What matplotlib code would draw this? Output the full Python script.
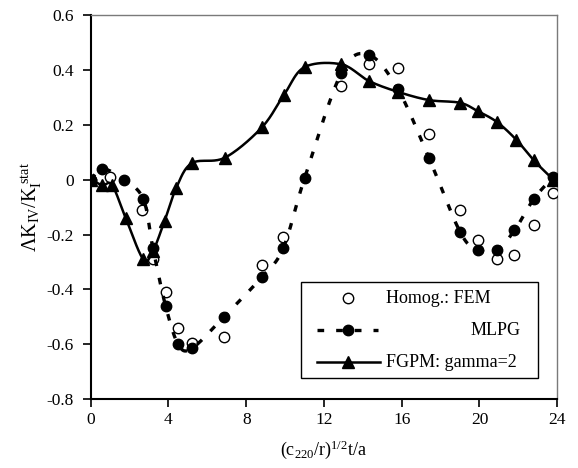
import numpy as np
import matplotlib
matplotlib.use("Agg")
import matplotlib.pyplot as plt
from matplotlib.patches import Rectangle
from matplotlib.lines import Line2D

plt.rcParams['font.family'] = ['Liberation Serif', 'DejaVu Serif']
plt.rcParams['mathtext.fontset'] = 'custom'
plt.rcParams['mathtext.rm'] = 'Liberation Serif'
plt.rcParams['mathtext.it'] = 'Liberation Serif:italic'

# Homog.: FEM (open circles)
fem_x = [0, 1.0, 2.65, 3.2, 3.85, 4.5, 5.2, 6.85, 8.8, 9.9, 12.9, 14.3, 15.8,
         17.4, 19.0, 19.9, 20.9, 21.8, 22.8, 23.8]
fem_y = [0.0, 0.01, -0.11, -0.29, -0.41, -0.54, -0.595, -0.575, -0.31, -0.21,
         0.34, 0.42, 0.405, 0.165, -0.11, -0.22, -0.29, -0.275, -0.165, -0.05]

# MLPG (filled circles, dashed)
mlpg_x = [0, 0.6, 1.7, 2.7, 3.2, 3.85, 4.5, 5.2, 6.85, 8.8, 9.9, 11.0, 12.9,
          14.3, 15.8, 17.4, 19.0, 19.9, 20.9, 21.8, 22.8, 23.8]
mlpg_y = [0.0, 0.04, 0.0, -0.07, -0.25, -0.46, -0.60, -0.615, -0.50, -0.355,
          -0.25, 0.005, 0.39, 0.455, 0.33, 0.08, -0.19, -0.255, -0.255, -0.185,
          -0.07, 0.01]

# FGPM: gamma=2 (triangles, solid)
fgpm_x = [0, 0.6, 1.1, 1.8, 2.7, 3.2, 3.8, 4.4, 5.2, 6.9, 8.8, 9.95, 11.0, 12.9,
          14.3, 15.8, 17.4, 19.0, 19.9, 20.9, 21.9, 22.8, 23.8]
fgpm_y = [0.0, -0.02, -0.02, -0.14, -0.29, -0.26, -0.15, -0.03, 0.06, 0.08,
          0.19, 0.31, 0.41, 0.42, 0.36, 0.32, 0.29, 0.28, 0.25, 0.21, 0.145,
          0.07, 0.0]

x_ticks = [0, 4, 8, 12, 16, 20, 24]
y_ticks = [-0.8, -0.6, -0.4, -0.2, 0, 0.2, 0.4, 0.6]
y_ticklabels = ['-0.8', '-0.6', '-0.4', '-0.2', '0', '0.2', '0.4', '0.6']


def smooth(x, y, n=25):
    # Catmull-Rom curve through the points (like a spreadsheet "smoothed line")
    x = np.asarray(x, float)
    y = np.asarray(y, float)
    px = np.concatenate([[2 * x[0] - x[1]], x, [2 * x[-1] - x[-2]]])
    py = np.concatenate([[2 * y[0] - y[1]], y, [2 * y[-1] - y[-2]]])
    t = np.linspace(0, 1, n)
    xs, ys = [], []
    for i in range(len(x) - 1):
        for p, out in ((px, xs), (py, ys)):
            p0, p1, p2, p3 = p[i], p[i + 1], p[i + 2], p[i + 3]
            out.append(0.5 * (2 * p1 + (-p0 + p2) * t
                              + (2 * p0 - 5 * p1 + 4 * p2 - p3) * t ** 2
                              + (-p0 + 3 * p1 - 3 * p2 + p3) * t ** 3))
    return np.concatenate(xs), np.concatenate(ys)


fig = plt.figure(figsize=(5.78, 4.68), dpi=100)
ax = fig.add_axes([0.157, 0.147, 0.807, 0.821])

dash = (0, (2.0, 3.6))
ax.plot(fem_x, fem_y, 'o', ms=7.5, mfc='white', mec='black', mew=1.0, zorder=3)
sx, sy = smooth(mlpg_x, mlpg_y)
ax.plot(sx, sy, color='black', lw=2.4, linestyle=dash, zorder=4)
ax.plot(mlpg_x, mlpg_y, 'o', ms=7.5, color='black', zorder=5)
sx, sy = smooth(fgpm_x, fgpm_y)
ax.plot(sx, sy, color='black', lw=1.8, zorder=6)
ax.plot(fgpm_x, fgpm_y, '^', ms=8, color='black', zorder=7)

ax.set_xlim(0, 24)
ax.set_ylim(-0.8, 0.6)
ax.set_xticks(x_ticks)
ax.set_yticks(y_ticks)
ax.set_yticklabels(y_ticklabels)
ax.tick_params(direction='out', length=6, width=1.2, labelsize=12.5, color='black')
ax.tick_params(axis='y', pad=6)
ax.tick_params(axis='x', pad=3)
for s in ('left', 'bottom'):
    ax.spines[s].set_linewidth(1.5)
    ax.spines[s].set_color('black')
for s in ('top', 'right'):
    ax.spines[s].set_linewidth(1.0)
    ax.spines[s].set_color('#7a7a7a')

ax.set_xlabel(r'$\mathrm{(c_{220}/r)^{1/2}t/a}$', fontsize=13, labelpad=8)
ax.set_ylabel(r'$\mathrm{\Lambda K_{IV}/K_{I}^{\ stat}}$', fontsize=14.5, labelpad=2)


# legend drawn by hand so the labels sit where they do in the original
def fx(px):
    return (px - 91) / 466.0


def fy(py):
    return (399 - py) / 384.0


ax.add_patch(Rectangle((fx(301), fy(378)), fx(538) - fx(301), fy(282) - fy(378),
                       transform=ax.transAxes, facecolor='white', edgecolor='black',
                       lw=1.0, zorder=10))
r1, r2, r3 = fy(298), fy(330), fy(362)
ax.add_line(Line2D([fx(348)], [r1], transform=ax.transAxes, marker='o', ms=7.5,
                   mfc='white', mec='black', mew=1.0, ls='none', zorder=11))
ax.add_line(Line2D([fx(317), fx(378)], [r2, r2], transform=ax.transAxes,
                   color='black', lw=2.4, linestyle=dash, zorder=11))
ax.add_line(Line2D([fx(348)], [r2], transform=ax.transAxes, marker='o', ms=7.5,
                   color='black', ls='none', zorder=12))
ax.add_line(Line2D([fx(317), fx(380)], [r3, r3], transform=ax.transAxes,
                   color='black', lw=1.8, zorder=11))
ax.add_line(Line2D([fx(348)], [r3], transform=ax.transAxes, marker='^', ms=8,
                   color='black', ls='none', zorder=12))
ax.text(fx(386), r1, 'Homog.: FEM', transform=ax.transAxes, fontsize=13,
        va='center', ha='left', zorder=12)
ax.text(fx(520), r2, 'MLPG', transform=ax.transAxes, fontsize=13,
        va='center', ha='right', zorder=12)
ax.text(fx(386), r3, 'FGPM: gamma=2', transform=ax.transAxes, fontsize=13,
        va='center', ha='left', zorder=12)

fig.savefig('out.png', dpi=100)
